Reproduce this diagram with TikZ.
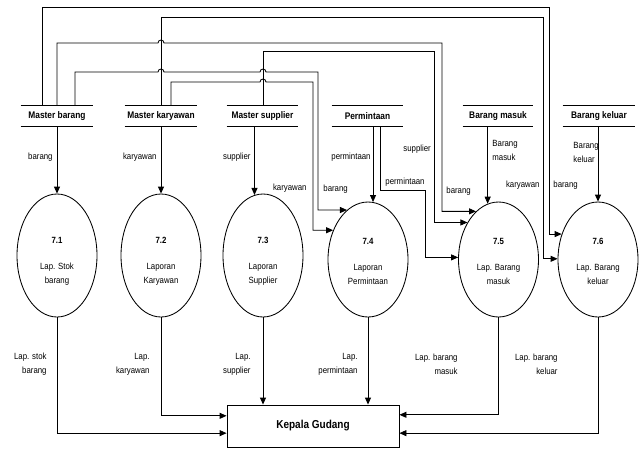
\documentclass[tikz,border=0pt]{standalone}
\usepackage{fontspec}
\setmainfont{Liberation Sans}[FakeStretch=0.87]
\usetikzlibrary{shapes.geometric,arrows.meta,calc}
\begin{document}
\begin{tikzpicture}[x=1pt,y=-1pt,line width=0.85pt,
  flow/.style={draw,-{Triangle[length=7pt,width=6pt]}},
  store/.style={font=\fontsize{9.6}{11}\selectfont\bfseries,minimum height=20pt,inner sep=0pt},
  proc/.style={ellipse,draw,minimum width=80pt,inner sep=0pt},
  ptext/.style={align=center,font=\fontsize{9}{14}\selectfont,inner sep=0pt},
  lbl/.style={font=\fontsize{9}{14}\selectfont,inner sep=0pt},
]
\useasboundingbox (0,0) rectangle (643,448);

% data stores
\node[store,minimum width=72pt] (mb) at (57,116) {Master barang};
\node[store,minimum width=72pt] (mk) at (161,116) {Master karyawan};
\node[store,minimum width=71pt] (ms) at (262.5,116) {Master supplier};
\node[store,minimum width=71pt] (pm) at (367.5,116) {Permintaan};
\node[store,minimum width=70pt] (bm) at (498,116) {Barang masuk};
\node[store,minimum width=72pt] (bk) at (599,116) {Barang keluar};
\foreach \s in {mb,mk,ms,pm,bm,bk}{
  \draw (\s.north west) -- (\s.north east) (\s.south west) -- (\s.south east);
}

% processes
\node[proc,minimum height=123pt] (n71) at (57,255.5) {};
\node[proc,minimum height=123pt] (n72) at (161,255.5) {};
\node[proc,minimum height=123pt] (n73) at (263,255.5) {};
\node[proc,minimum height=115pt] (n74) at (368,259.5) {};
\node[proc,minimum height=115pt] (n75) at (498.5,259.5) {};
\node[proc,minimum height=115pt] (n76) at (598,259.5) {};
\node[ptext] (t71) at (57,261) {\textbf{7.1}\\[12pt]Lap. Stok\\barang};
\node[ptext] (t72) at (161,261) {\textbf{7.2}\\[12pt]Laporan\\Karyawan};
\node[ptext] (t73) at (263,261) {\textbf{7.3}\\[12pt]Laporan\\Supplier};
\node[ptext] (t74) at (368,261) {\textbf{7.4}\\[12pt]Laporan\\Permintaan};
\node[ptext] (t75) at (498.5,261) {\textbf{7.5}\\[12pt]Lap. Barang\\masuk};
\node[ptext] (t76) at (598,261) {\textbf{7.6}\\[12pt]Lap. Barang\\keluar};

% external entity
\node[draw,minimum width=172pt,minimum height=42pt,inner sep=0pt,
  font=\fontsize{11.5}{13}\selectfont\bfseries] (kg) at (313,426) {Kepala Gudang};
\coordinate (kgL1) at ($(kg.north west)!0.262!(kg.south west)$);
\coordinate (kgL2) at ($(kg.north west)!0.667!(kg.south west)$);
\coordinate (kgR1) at ($(kg.north east)!0.238!(kg.south east)$);
\coordinate (kgR2) at ($(kg.north east)!0.667!(kg.south east)$);

% routed flows over the top
\draw[flow] (42,0 |- mb.north) |- (549,7) |- (n76.145.9);
\draw[flow] (161,0 |- mk.north) |- (543,17) |- (n76.179.3);
\draw[flow] (57,0 |- mb.north) -- (57,43) -- (158,43)
  arc[start angle=180,end angle=0,radius=3pt] -- (442,43) |- (n75.115.3);
\draw[flow] (263,0 |- ms.north) |- (434,51) |- (n75.130.2);
\draw[flow] (75,0 |- mb.north) -- (75,72) -- (158,72)
  arc[start angle=180,end angle=0,radius=3pt] -- (260,72)
  arc[start angle=180,end angle=0,radius=3pt] -- (318,72) |- (n74.113.9);
\draw[flow] (171,0 |- mk.north) -- (171,82) -- (260,82)
  arc[start angle=180,end angle=0,radius=3pt] -- (313,82) |- (n74.140.6);

% direct flows from stores
\draw[flow] (mb.south) -- (n71.north);
\draw[flow] (mk.south) -- (n72.north);
\draw[flow] (n73.98.5 |- ms.south) -- (n73.98.5);
\draw[flow] (n74.85 |- pm.south) -- (n74.85);
\draw[flow] (380,0 |- pm.south) |- (425,190) |- (n75.177.9);
\draw[flow] (n75.101.3 |- bm.south) -- (n75.101.3);
\draw[flow] (n76.north |- bk.south) -- (n76.north);

% flows to Kepala Gudang
\draw[flow] (n71.south) |- (kgL2);
\draw[flow] (n72.south) |- (kgL1);
\draw[flow] (n73.south) -- (n73.south |- kg.north);
\draw[flow] (n74.south) -- (n74.south |- kg.north);
\draw[flow] (n75.south) |- (kgR1);
\draw[flow] (n76.south) |- (kgR2);

% flow labels (top)
\node[lbl,anchor=east] (l1) at (53,157) {barang};
\node[lbl,anchor=east] (l2) at (157,157) {karyawan};
\node[lbl,anchor=east] (l3) at (251,157) {supplier};
\node[lbl,anchor=east] (l4) at (371,157) {permintaan};
\node[lbl,anchor=east] (l5) at (307,188) {karyawan};
\node[lbl,anchor=west] (l6) at (323,189) {barang};
\node[lbl,anchor=west] (l7) at (403,149) {supplier};
\node[lbl,anchor=west] (l8) at (385,182) {permintaan};
\node[lbl,anchor=west] (l9) at (446,191) {barang};
\node[lbl,anchor=east] (l10) at (540,185) {karyawan};
\node[lbl,anchor=west] (l11) at (553,185) {barang};
\node[lbl,anchor=west,align=left] (l12) at (492,150) {Barang\\masuk};
\node[lbl,anchor=west,align=left] (l13) at (573,152) {Barang\\keluar};

% flow labels (bottom)
\node[lbl,anchor=east,align=right] (b1) at (47,364) {Lap. stok\\barang};
\node[lbl,anchor=east,align=right] (b2) at (150,364) {Lap.\\karyawan};
\node[lbl,anchor=east,align=right] (b3) at (251,364) {Lap.\\supplier};
\node[lbl,anchor=east,align=right] (b4) at (358,364) {Lap.\\permintaan};
\node[lbl,anchor=east,align=right] (b5) at (458,364) {Lap. barang\\masuk};
\node[lbl,anchor=east,align=right] (b6) at (558,364) {Lap. barang\\keluar};
\end{tikzpicture}
\end{document}
